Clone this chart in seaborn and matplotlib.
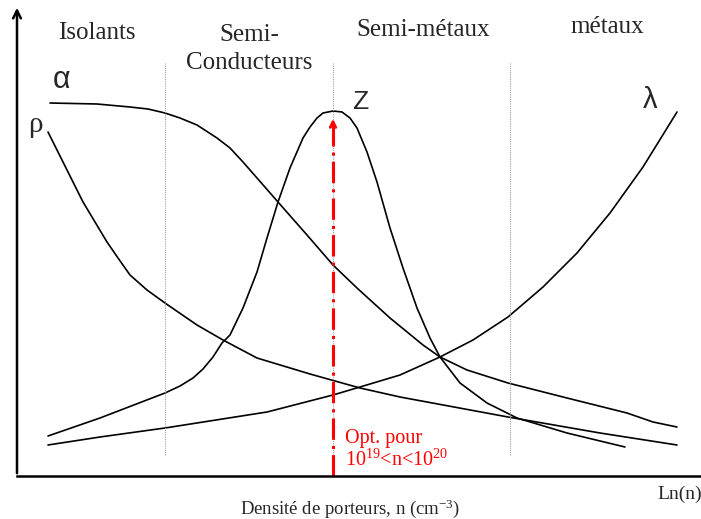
import matplotlib
matplotlib.use("Agg")
import matplotlib.pyplot as plt
import seaborn as sns
import pandas as pd

# Courbes schématiques, x = densité (log), y = grandeur relative
alpha_x = [33, 80, 113, 131, 148, 163, 180, 200, 213, 226, 261, 290, 316, 340, 373, 406, 423, 450, 491, 550,
           610, 636, 660]
alpha_y = [373, 372, 369, 367, 363, 358, 351, 338, 328, 314, 274, 241, 211, 188, 158, 131, 119, 106, 93, 78,
           63, 54, 49]

rho_x = [31, 46, 66, 90, 101, 113, 130, 148, 180, 206, 240, 293, 343, 383, 491, 583, 660]
rho_y = [344, 314, 274, 234, 218, 201, 186, 173, 151, 136, 118, 102, 88, 79, 59, 43, 31]

z_x = [31, 83, 148, 163, 176, 186, 196, 205, 213, 226, 240, 250, 261, 273, 286, 293, 300, 306, 316, 325,
       333, 340, 350, 360, 373, 386, 400, 413, 423, 443, 470, 500, 550, 608]
z_y = [40, 58, 83, 90, 98, 107, 119, 133, 141, 168, 204, 238, 274, 308, 338, 349, 358, 363, 365, 364,
       358, 348, 324, 294, 248, 208, 168, 138, 119, 93, 73, 58, 43, 29]

lam_x = [31, 83, 148, 250, 316, 343, 383, 423, 456, 491, 526, 560, 593, 626, 660]
lam_y = [31, 39, 48, 64, 81, 89, 101, 119, 136, 159, 189, 223, 263, 309, 364]

# limites des domaines et optimum
bornes = [148, 316, 493]
x_opt = 316
domaines = ["Isolants", "Semi-\nConducteurs", "Semi-métaux", "métaux"]
domaines_x = [80, 232, 406, 590]
domaines_y = [443, 427, 446, 449]

sns.set_theme(style="white")
plt.rcParams['font.family'] = ['Liberation Serif', 'DejaVu Serif']
plt.rcParams['mathtext.fontset'] = 'custom'
plt.rcParams['mathtext.rm'] = 'Liberation Serif'

fig = plt.figure(figsize=(7.01, 5.19), dpi=100)
ax = fig.add_axes([17 / 701, 43 / 519, 684 / 701, 471 / 519])
ax.set_xlim(0, 684)
ax.set_ylim(0, 471)

frames = []
for nom, xs, ys in [("alpha", alpha_x, alpha_y), ("rho", rho_x, rho_y),
                    ("Z", z_x, z_y), ("lambda", lam_x, lam_y)]:
    frames.append(pd.DataFrame({"x": xs, "y": ys, "courbe": nom}))
df = pd.concat(frames, ignore_index=True)

sns.lineplot(data=df, x="x", y="y", units="courbe", estimator=None, sort=False,
             color="black", linewidth=1.2, ax=ax, legend=False)

# lignes pointillées des domaines
for b in bornes:
    ax.plot([b, b], [21, 413], color="#a0a0a0", linestyle=(0, (1, 1)), linewidth=0.8)

# flèche rouge de l'optimum
ax.plot([x_opt, x_opt], [0, 356], color="red", linewidth=2.2, dashes=(7, 2, 1, 2))
ax.annotate("", xy=(x_opt, 360), xytext=(x_opt, 346),
            arrowprops=dict(arrowstyle="->", color="red", lw=2, mutation_scale=10))

# axes
sns.despine(ax=ax, left=True)
ax.spines['bottom'].set_linewidth(1.8)
ax.spines['bottom'].set_color("black")
ax.annotate("", xy=(0, 1), xytext=(0, 0), xycoords="axes fraction",
            arrowprops=dict(arrowstyle="->", color="black", lw=1.8, mutation_scale=14),
            annotation_clip=False)
ax.set_xticks([])
ax.set_yticks([])
ax.set_xlabel("")
ax.set_ylabel("")

for t, x, y in zip(domaines, domaines_x, domaines_y):
    ax.text(x, y, t, fontsize=18, ha="center", va="center", linespacing=1.35)

sans = ['Liberation Sans', 'DejaVu Sans']
ax.text(45, 396, "α", fontsize=22, family=sans, ha="center", va="center")
ax.text(18, 351, "ρ", fontsize=21, ha="center", va="center")
ax.text(343, 374, "Z", fontsize=19, family=sans, ha="center", va="center")
ax.text(633, 376, "λ", fontsize=21, family=sans, ha="center", va="center")

ax.text(328, 38, "Opt. pour", fontsize=14.5, color="red", ha="left", va="center")
ax.text(328, 16, r"10$\mathregular{^{19}}$<n<10$\mathregular{^{20}}$", fontsize=14.5,
        color="red", ha="left", va="center")

ax.text(333, -33, r"Densité de porteurs, n (cm$\mathregular{^{-3}}$)", fontsize=13.5,
        ha="center", va="center", clip_on=False)
ax.text(640, -18, "Ln(n)", fontsize=14, ha="left", va="center", clip_on=False)

fig.savefig("out.png", dpi=100)
